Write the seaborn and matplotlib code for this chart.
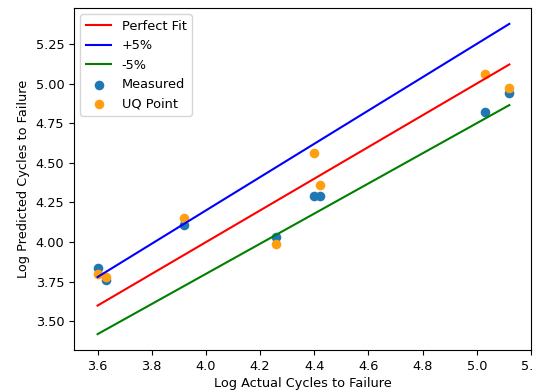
import matplotlib
matplotlib.use("Agg")
import matplotlib.pyplot as plt
import seaborn as sns
import pandas as pd
import numpy as np

# data
fit_x = [3.6, 5.12]
actual = [3.60, 3.63, 3.92, 4.26, 4.40, 4.42, 5.03, 5.12]
measured = [3.84, 3.76, 4.11, 4.03, 4.29, 4.29, 4.82, 4.94]
uq_point = [3.80, 3.78, 4.15, 3.99, 4.56, 4.36, 5.06, 4.97]

fit = pd.DataFrame({"x": fit_x})
fit["perfect"] = fit["x"]
fit["plus"] = fit["x"] * 1.05
fit["minus"] = fit["x"] * 0.95
pts = pd.DataFrame({"actual": actual, "measured": measured, "uq": uq_point})

plt.rcParams["font.size"] = 9.3
fig = plt.figure(figsize=(5.34, 3.9), dpi=100)
ax = fig.add_axes([74 / 534, 40 / 390, 457 / 534, 342 / 390])

lw = 1.5
sns.lineplot(data=fit, x="x", y="perfect", color="red", lw=lw, label="Perfect Fit", ax=ax)
sns.lineplot(data=fit, x="x", y="plus", color="blue", lw=lw, label="+5%", ax=ax)
sns.lineplot(data=fit, x="x", y="minus", color="green", lw=lw, label="-5%", ax=ax)
sns.scatterplot(data=pts, x="actual", y="measured", color="#1f77b4", s=48,
                linewidth=0, label="Measured", ax=ax)
sns.scatterplot(data=pts, x="actual", y="uq", color="#ff9f10", s=48,
                linewidth=0, label="UQ Point", ax=ax)

ax.set_xlim(3.513, 5.196)
ax.set_ylim(3.32, 5.476)
ax.set_xticks([3.6, 3.8, 4.0, 4.2, 4.4, 4.6, 4.8, 5.0, 5.2])
ax.set_yticks([3.5, 3.75, 4.0, 4.25, 4.5, 4.75, 5.0, 5.25])
ax.set_yticklabels(["3.50", "3.75", "4.00", "4.25", "4.50", "4.75", "5.00", "5.25"])
ax.set_xlabel("Log Actual Cycles to Failure", labelpad=3)
ax.set_ylabel("Log Predicted Cycles to Failure")
ax.legend(loc="upper left")

fig.savefig("out.png", dpi=100)
